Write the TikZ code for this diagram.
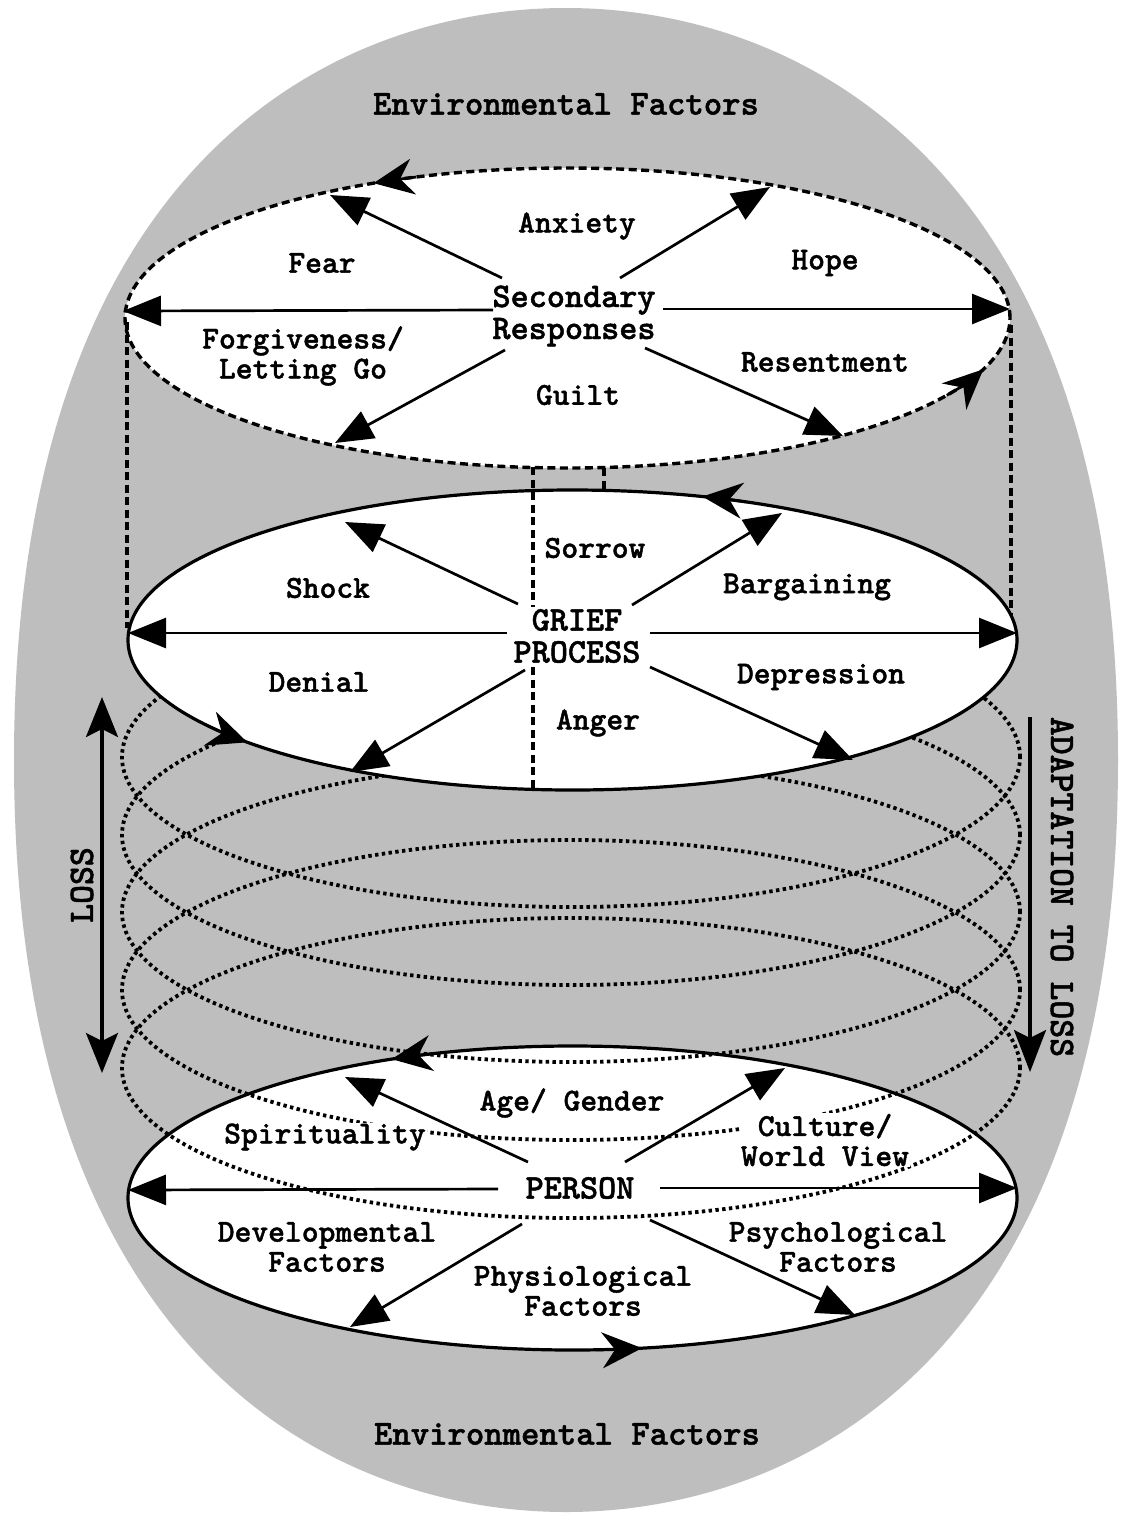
\documentclass[tikz,border=0pt]{standalone}
\usepackage{fontspec}
\newfontfamily\cour{lmmonolt10-bold.otf}[FakeBold=1.3]
\usetikzlibrary{arrows.meta}
\definecolor{bggray}{RGB}{190,190,190}
\begin{document}
\begin{tikzpicture}[x=1pt,y=-1pt,
  lbl/.style={font=\cour\fontsize{32}{30}\selectfont, align=center, inner sep=1pt},
  ctr/.style={font=\cour\fontsize{34.5}{32}\selectfont, align=center, inner sep=2pt, fill=white},
  envl/.style={font=\cour\fontsize{35}{36}\selectfont, inner sep=1pt},
  side/.style={font=\cour\fontsize{36}{38}\selectfont, inner sep=1pt},
  ray/.style={line width=2.7pt, -{Triangle[length=38pt,width=30pt]}},
  circ/.style={line width=2.7pt, -{Stealth[length=40pt,width=36pt,inset=13pt]}},
  rim/.style={line width=3.2pt},
  dotline/.style={line width=3.8pt, dash pattern=on 3.4pt off 3.4pt},
  dashline/.style={line width=3.4pt, dash pattern=on 8pt off 4.5pt},
  bigarrow/.style={line width=3.2pt},
]
\useasboundingbox (0,0) rectangle (1131,1513);
\fill[white] (0,0) rectangle (1131,1513);
% gray environment oval
\coordinate (gT) at (566,8);
\coordinate (gL) at (14,760);
\coordinate (gB) at (566,1512);
\coordinate (gR) at (1118,760);
\fill[bggray] (gT) .. controls (336,8) and (14,160) .. (gL)
  .. controls (14,1360) and (336,1512) .. (gB)
  .. controls (796,1512) and (1118,1360) .. (gR)
  .. controls (1118,160) and (796,8) .. (gT) -- cycle;

% centres
\coordinate (Ctop) at (567.5,318);
\coordinate (Cmid) at (572.5,640);
\coordinate (Cbot) at (572.5,1198);

% bottom ellipse fill
\fill[white] (Cbot) ellipse [x radius=444.5pt, y radius=152pt];
% helix of dotted ellipses
\foreach \c in {757,835,912,990,1068}
  \draw[dotline] (571,\c) ellipse [x radius=449pt, y radius=150pt];
\draw[rim] (Cbot) ellipse [x radius=444.5pt, y radius=152pt];

% middle ellipse
\draw[rim, fill=white] (Cmid) ellipse [x radius=444.5pt, y radius=150pt];
% top ellipse
\draw[dashline, fill=white] (Ctop) ellipse [x radius=442.5pt, y radius=150pt];

% vertical dashed lines
\coordinate (vlA) at (127,322);
\coordinate (vlB) at (127,628);
\coordinate (vrA) at (1011,325);
\coordinate (vrB) at (1011,615);
\coordinate (vcA) at (533,467);
\coordinate (vcB) at (533,789);
\coordinate (vsA) at (604,468);
\coordinate (vsB) at (604,490);
\draw[dashline] (vlA) -- (vlB);
\draw[dashline] (vrA) -- (vrB);
\draw[dashline] (vcA) -- (vcB);
\draw[dashline] (vsA) -- (vsB);

% circulating arrowheads
\draw[circ] ([shift={(110:442.5pt and 150pt)}]Ctop) arc[start angle=110, end angle=116, x radius=442.5pt, y radius=150pt];
\draw[circ] ([shift={(-31:442.5pt and 150pt)}]Ctop) arc[start angle=-31, end angle=-20, x radius=442.5pt, y radius=150pt];
\draw[circ] ([shift={(67:444.5pt and 150pt)}]Cmid) arc[start angle=67, end angle=73, x radius=444.5pt, y radius=150pt];
\draw[circ] ([shift={(215:444.5pt and 150pt)}]Cmid) arc[start angle=215, end angle=223, x radius=444.5pt, y radius=150pt];
\draw[circ] ([shift={(108:444.5pt and 152pt)}]Cbot) arc[start angle=108, end angle=114, x radius=444.5pt, y radius=152pt];
\draw[circ] ([shift={(-87:444.5pt and 152pt)}]Cbot) arc[start angle=-87, end angle=-81, x radius=444.5pt, y radius=152pt];

% labels
\node[envl] (envT) at (566,104) {Environmental Factors};
\node[envl] (envB) at (567,1434) {Environmental Factors};
\node[lbl] (anx) at (577,226) {Anxiety};
\node[lbl] (fear) at (322,263) {Fear};
\node[lbl] (hope) at (825,263) {Hope};
\node[ctr] (sec) at (574,316) {Secondary\\Responses};
\node[lbl] (forg) at (303,356) {Forgiveness/\\Letting Go};
\node[lbl] (res) at (825,362) {Resentment};
\node[lbl] (guilt) at (578,395) {Guilt};
\node[lbl] (sorrow) at (595,548) {Sorrow};
\node[lbl] (shock) at (328,588) {Shock};
\node[lbl] (barg) at (807,587) {Bargaining};
\node[ctr] (grief) at (577,636) {GRIEF\\PROCESS};
\node[lbl] (denial) at (319,682) {Denial};
\node[lbl] (depr) at (821,677) {Depression};
\node[lbl] (anger) at (598,723) {Anger};
\node[lbl] (age) at (572,1103) {Age/ Gender};
\node[lbl, fill=white] (spir) at (325,1137) {Spirituality};
\node[lbl, fill=white] (cult) at (825,1140) {Culture/\\World View};
\node[ctr] (person) at (580,1188) {PERSON};
\node[lbl] (dev) at (327,1247) {Developmental\\Factors};
\node[lbl] (psy) at (838,1247) {Psychological\\Factors};
\node[lbl] (phys) at (583,1291) {Physiological\\Factors};
\node[side, rotate=90] (loss) at (82,885) {LOSS};
\node[side, rotate=-90] (adapt) at (1062,887) {ADAPTATION TO LOSS};

% radial arrows: top
\coordinate (t1s) at (502,278); \coordinate (t1e) at (330,195);
\coordinate (t2s) at (620,278); \coordinate (t2e) at (770,187);
\coordinate (t3s) at (493,310); \coordinate (t3e) at (123,311);
\coordinate (t4s) at (663,309); \coordinate (t4e) at (1010,309);
\coordinate (t5s) at (505,350); \coordinate (t5e) at (335,443);
\coordinate (t6s) at (645,348); \coordinate (t6e) at (843,436);
% middle
\coordinate (m1s) at (518,604); \coordinate (m1e) at (345,522);
\coordinate (m2s) at (632,605); \coordinate (m2e) at (782,513);
\coordinate (m3s) at (507,633); \coordinate (m3e) at (128,633);
\coordinate (m4s) at (650,633); \coordinate (m4e) at (1017,633);
\coordinate (m5s) at (525,670); \coordinate (m5e) at (350,772);
\coordinate (m6s) at (650,667); \coordinate (m6e) at (853,760);
% bottom
\coordinate (b1s) at (528,1162); \coordinate (b1e) at (345,1077);
\coordinate (b2s) at (625,1162); \coordinate (b2e) at (785,1068);
\coordinate (b3s) at (498,1189); \coordinate (b3e) at (128,1190);
\coordinate (b4s) at (660,1188); \coordinate (b4e) at (1017,1188);
\coordinate (b5s) at (522,1224); \coordinate (b5e) at (350,1327);
\coordinate (b6s) at (650,1220); \coordinate (b6e) at (855,1315);
\foreach \p in {t1,t2,t3,t4,t5,t6,m1,m2,m3,m4,m5,m6,b1,b2,b3,b4,b5,b6}
  \draw[ray] (\p s) -- (\p e);

% LOSS and ADAPTATION arrows
\coordinate (lossT) at (102,697);
\coordinate (lossB) at (102,1073);
\coordinate (adA) at (1030,717);
\coordinate (adB) at (1030,1072);
\draw[bigarrow, {Stealth[length=40pt,width=32pt,inset=8pt]}-{Stealth[length=40pt,width=32pt,inset=8pt]}] (lossT) -- (lossB);
\draw[bigarrow, -{Stealth[length=42pt,width=32pt,inset=8pt]}] (adA) -- (adB);
\end{tikzpicture}
\end{document}
